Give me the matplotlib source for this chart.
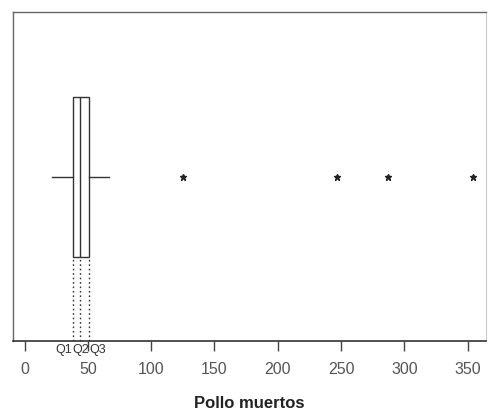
import matplotlib
matplotlib.use("Agg")
import matplotlib.pyplot as plt

# Summary of "Pollo muertos" (dead chickens)
q1 = 38
median = 44
q3 = 51
whisker_low = 22
whisker_high = 67
outliers = [125, 247, 287, 354]

tick_values = [0, 50, 100, 150, 200, 250, 300, 350]
quartile_labels = ["Q1", "Q2", "Q3"]
x_label = "Pollo muertos"

plt.rcParams["font.family"] = ["Liberation Sans", "DejaVu Sans"]

fig = plt.figure(figsize=(4.88, 4.15), dpi=100)
ax = fig.add_axes([0.0266, 0.178, 0.97, 0.793])

box_width = 0.486
box_center = 0.5
stats = [{
    "med": median, "q1": q1, "q3": q3,
    "whislo": whisker_low, "whishi": whisker_high,
    "fliers": outliers,
}]
ax.bxp(stats, positions=[box_center], widths=box_width, orientation="horizontal",
       showcaps=False, patch_artist=True,
       boxprops=dict(facecolor="white", edgecolor="#333333", linewidth=1.0),
       medianprops=dict(color="#333333", linewidth=1.0),
       whiskerprops=dict(color="#333333", linewidth=1.0),
       flierprops=dict(marker="*", markersize=5, markerfacecolor="#222222",
                       markeredgecolor="#222222", linestyle="none"))

# dotted drop lines from the box down to the axis at each quartile
box_bottom = box_center - box_width / 2
ax.vlines([q1, median, q3], 0, box_bottom, colors="#333333",
          linestyles=(0, (1.2, 2.0)), linewidth=1.0)

# quartile labels just below the axis
label_kw = dict(transform=ax.get_xaxis_transform(), fontsize=9, va="top",
                color="#333333")
ax.text(q1 - 0.5, -0.008, quartile_labels[0], ha="right", **label_kw)
ax.text(median + 0.5, -0.008, quartile_labels[1], ha="center", **label_kw)
ax.text(q3 + 0.5, -0.008, quartile_labels[2], ha="left", **label_kw)

ax.set_xlim(-9.1, 364.8)
ax.set_ylim(0, 1)
ax.set_yticks([])
ax.set_xticks(tick_values)
ax.set_xticklabels([str(v) for v in tick_values], fontsize=11.5, color="#555555")
ax.tick_params(axis="x", direction="out", length=7, width=1.0, color="#444444", pad=8)

for side in ["left", "top"]:
    ax.spines[side].set_color("#666666")
    ax.spines[side].set_linewidth(1.0)
ax.spines["right"].set_color("#cccccc")
ax.spines["right"].set_linewidth(0.8)
ax.spines["bottom"].set_color("#333333")
ax.spines["bottom"].set_linewidth(1.2)

ax.set_xlabel(x_label, fontsize=12, fontweight="bold", color="#222222", labelpad=14)

fig.savefig("out.png", dpi=100)
